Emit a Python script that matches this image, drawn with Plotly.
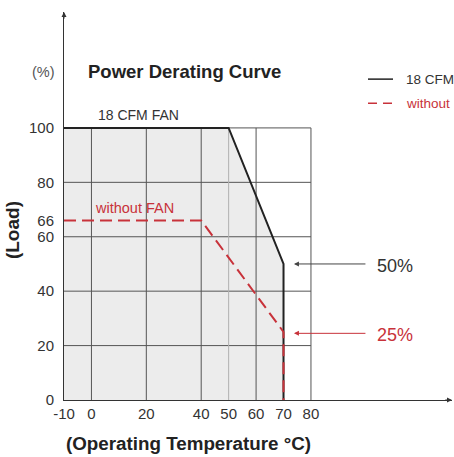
import plotly.graph_objects as go

# data
fan_temp = [-10, 50, 70, 70]
fan_load = [100, 100, 50, 0]
nofan_temp = [-10, 40, 70, 70]
nofan_load = [66, 66, 25, 0]
x_ticks = [-10, 0, 20, 40, 50, 60, 70, 80]
y_ticks = [0, 20, 40, 60, 66, 80, 100]
grid_x_dark = [0, 20, 40, 60, 80]
grid_x_light = [50]
grid_y = [20, 40, 60, 80, 100]
legend_names = ["18 CFM", "without"]

XMIN, XMAX = -10, 131.4
YMIN, YMAX = 0, 142.6
GRID_XMAX = 80
GRID_YMAX = 100

RED = "#c8323a"
DARK = "#222222"
TXT = "#333333"
FONT = "Liberation Sans, Arial, sans-serif"

fig = go.Figure()

# fill under fan curve
fig.add_trace(go.Scatter(x=fan_temp, y=fan_load, fill="tozeroy", fillcolor="#ececec",
                         line=dict(width=0), mode="lines", showlegend=False, hoverinfo="skip"))

# grid lines as traces
gx, gy = [], []
for v in grid_x_dark:
    gx += [v, v, None]; gy += [0, GRID_YMAX, None]
for v in grid_y:
    gx += [XMIN, GRID_XMAX, None]; gy += [v, v, None]
fig.add_trace(go.Scatter(x=gx, y=gy, mode="lines", line=dict(color="#555555", width=1),
                         showlegend=False, hoverinfo="skip"))
lx, ly = [], []
for v in grid_x_light:
    lx += [v, v, None]; ly += [0, GRID_YMAX, None]
fig.add_trace(go.Scatter(x=lx, y=ly, mode="lines", line=dict(color="#b0b0b0", width=1),
                         showlegend=False, hoverinfo="skip"))

# curves
fig.add_trace(go.Scatter(x=fan_temp, y=fan_load, mode="lines", name=legend_names[0],
                         line=dict(color=DARK, width=2), showlegend=False))
fig.add_trace(go.Scatter(x=nofan_temp, y=nofan_load, mode="lines", name=legend_names[1],
                         line=dict(color=RED, width=2, dash="12px,6px"), showlegend=False))

ann = []
# axis arrows
ann.append(dict(x=XMAX, y=0, ax=XMAX - 3, ay=0, xref="x", yref="y", axref="x", ayref="y",
                showarrow=True, arrowhead=2, arrowsize=1, arrowwidth=1, arrowcolor=TXT, text=""))
ann.append(dict(x=XMIN, y=YMAX, ax=XMIN, ay=YMAX - 3, xref="x", yref="y", axref="x", ayref="y",
                showarrow=True, arrowhead=2, arrowsize=1, arrowwidth=1, arrowcolor=TXT, text=""))
# title & labels
ann.append(dict(x=-1.9, y=120.6, xref="x", yref="y", xanchor="left", yanchor="middle",
                text="<b>Power Derating Curve</b>", showarrow=False,
                font=dict(size=18.5, color="#222", family=FONT)))
ann.append(dict(x=-0.018, y=0.845, xref="paper", yref="paper", xanchor="right", yanchor="middle",
                text="(%)", showarrow=False, font=dict(size=14.5, color="#555", family=FONT)))
ann.append(dict(x=-0.134, y=0.438, xref="paper", yref="paper", xanchor="center", yanchor="middle",
                text="<b>(Load)</b>", textangle=-90, showarrow=False,
                font=dict(size=19, color="#222", family=FONT)))
ann.append(dict(x=0.32, y=-0.113, xref="paper", yref="paper", xanchor="center", yanchor="middle",
                text="<b>(Operating Temperature °C)</b>", showarrow=False,
                font=dict(size=18.8, color="#222", family=FONT)))
ann.append(dict(x=1.6, y=104.8, xref="x", yref="y", xanchor="left", yanchor="middle",
                text="18 CFM FAN", showarrow=False, font=dict(size=14, color=TXT, family=FONT)))
ann.append(dict(x=0.6, y=70.6, xref="x", yref="y", xanchor="left", yanchor="middle",
                text="without FAN", showarrow=False, font=dict(size=14.5, color=RED, family=FONT)))
# pointer arrows
ann.append(dict(x=73.8, y=50, ax=100.4, ay=50, xref="x", yref="y", axref="x", ayref="y",
                showarrow=True, arrowhead=2, arrowsize=1, arrowwidth=1, arrowcolor="#444", text=""))
ann.append(dict(x=73.8, y=24.5, ax=100.4, ay=24.5, xref="x", yref="y", axref="x", ayref="y",
                showarrow=True, arrowhead=2, arrowsize=1, arrowwidth=1, arrowcolor=RED, text=""))
ann.append(dict(x=103.3, y=49.3, xref="x", yref="y", xanchor="left", yanchor="middle",
                text="50%", showarrow=False, font=dict(size=18, color=TXT, family=FONT)))
ann.append(dict(x=103.3, y=23.9, xref="x", yref="y", xanchor="left", yanchor="middle",
                text="25%", showarrow=False, font=dict(size=18, color=RED, family=FONT)))
# legend text
ann.append(dict(x=0.876, y=0.827, xref="paper", yref="paper", xanchor="left", yanchor="middle",
                text=legend_names[0], showarrow=False, font=dict(size=13.5, color=TXT, family=FONT)))
ann.append(dict(x=0.876, y=0.765, xref="paper", yref="paper", xanchor="left", yanchor="middle",
                text=legend_names[1], showarrow=False, font=dict(size=13.5, color=RED, family=FONT)))

shapes = [
    dict(type="line", xref="paper", yref="paper", x0=0.7835, x1=0.848, y0=0.827, y1=0.827,
         line=dict(color=DARK, width=1.5)),
    dict(type="line", xref="paper", yref="paper", x0=0.7835, x1=0.848, y0=0.765, y1=0.765,
         line=dict(color=RED, width=1.5, dash="9px,6px")),
]

fig.update_layout(
    width=454, height=457,
    margin=dict(l=64, r=2, t=12, b=57),
    paper_bgcolor="white", plot_bgcolor="white",
    font=dict(family=FONT, color=TXT),
    annotations=ann, shapes=shapes,
    showlegend=False,
    xaxis=dict(range=[XMIN, XMAX], tickvals=x_ticks, ticktext=[str(v) for v in x_ticks],
               showgrid=False, zeroline=False, showline=True, linecolor=TXT, linewidth=1,
               ticks="", tickfont=dict(size=15, color=TXT), fixedrange=True),
    yaxis=dict(range=[YMIN, YMAX], tickvals=y_ticks, ticktext=[str(v) for v in y_ticks],
               showgrid=False, zeroline=False, showline=True, linecolor=TXT, linewidth=1,
               ticks="", ticklabelstandoff=6, tickfont=dict(size=15, color=TXT), fixedrange=True),
)

fig.write_html("out.html", config={"displayModeBar": False},
               post_script="document.body.style.margin='0';document.body.style.padding='0';")
